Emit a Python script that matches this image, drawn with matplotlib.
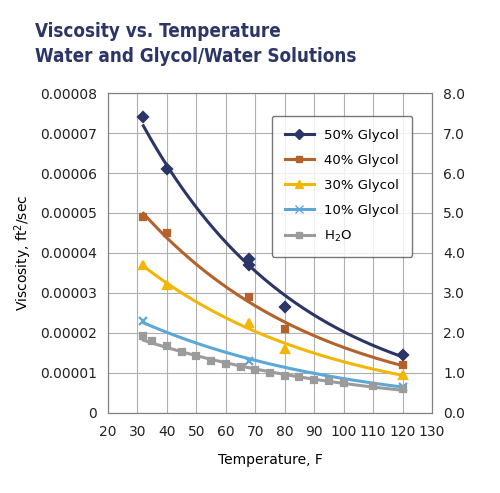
import numpy as np
import matplotlib
matplotlib.use("Agg")
import matplotlib.pyplot as plt

# data
g50_t = [32, 40, 68, 68, 80, 120]
g50_v = [0.000074, 0.000061, 0.0000385, 0.000037, 0.0000265, 0.0000145]
g40_t = [32, 40, 68, 80, 120]
g40_v = [0.000049, 0.000045, 0.000029, 0.000021, 0.000012]
g30_t = [32, 40, 68, 80, 120]
g30_v = [0.000037, 0.000032, 0.0000225, 0.000016, 0.0000095]
g10_t = [32, 68, 120]
g10_v = [0.000023, 0.000013, 0.0000065]
h2o_t = [32, 35, 40, 45, 50, 55, 60, 65, 70, 75, 80, 85, 90, 95, 100, 110, 120]
h2o_v = [0.0000192, 0.0000180, 0.0000166, 0.0000153, 0.0000141, 0.0000130,
         0.0000122, 0.0000114, 0.0000106, 0.0000100, 0.0000093, 0.0000088,
         0.0000082, 0.0000078, 0.0000074, 0.0000066, 0.0000059]

series = [
    ("50% Glycol", g50_t, g50_v, "#2b3566", "D", 5),
    ("40% Glycol", g40_t, g40_v, "#b3622b", "s", 5),
    ("30% Glycol", g30_t, g30_v, "#f2b705", "^", 6),
    ("10% Glycol", g10_t, g10_v, "#5ba7d8", "x", 6),
    ("H$_2$O",     h2o_t, h2o_v, "#9b9b9b", "s", 4),
]

fig = plt.figure(figsize=(5.0, 4.93), dpi=100)
ax = fig.add_axes([0.216, 0.163, 0.648, 0.648])

xs = np.linspace(32, 120, 200)
for label, t, v, col, mk, ms in series:
    k, b = np.polyfit(t, np.log(v), 1)
    ax.plot(xs, np.exp(b + k * xs), color=col, lw=2.2, zorder=2)
    ax.plot(t, v, ls="none", marker=mk, color=col, ms=ms, mew=1.6, zorder=3)
    ax.plot([], [], color=col, lw=2.2, marker=mk, ms=ms, label=label)

ax.set_xlim(20, 130)
ax.set_ylim(0, 0.00008)
ax.set_xticks(range(20, 131, 10))
ax.set_yticks(np.arange(0, 0.000081, 0.00001))
ax.set_yticklabels(["0"] + [f"{v:.5f}" for v in np.arange(0.00001, 0.000081, 0.00001)])
ax.grid(True, color="#b0b0b0", lw=0.8)
ax.set_axisbelow(True)
for s in ax.spines.values():
    s.set_color("#808080")
ax.tick_params(labelsize=10, length=0, colors="#222222")
ax.tick_params(axis="x", pad=9)
ax.tick_params(axis="y", pad=8)
ax.set_xlabel("Temperature, F", fontsize=10, labelpad=10)
ax.set_ylabel("Viscosity, ft$^2$/sec", fontsize=10)

ax2 = ax.twinx()
ax2.set_ylim(0, 8)
ax2.set_yticks(range(0, 9))
ax2.set_yticklabels([f"{v:.1f}" for v in range(0, 9)])
ax2.tick_params(labelsize=10, length=0, colors="#222222", pad=8)
for s in ax2.spines.values():
    s.set_color("#808080")

leg = ax.legend(loc="upper right", bbox_to_anchor=(0.96, 0.95), fontsize=9.5,
                frameon=True, fancybox=True, edgecolor="#555555", handlelength=2.2,
                borderpad=1.0, labelspacing=0.9)
leg.get_frame().set_linewidth(1.0)

fig.text(0.07, 0.955, "Viscosity vs. Temperature", fontsize=13.5, fontweight="bold",
         color="#2b3566", va="top", stretch="condensed")
fig.text(0.07, 0.905, "Water and Glycol/Water Solutions", fontsize=13.5, fontweight="bold",
         color="#2b3566", va="top", stretch="condensed")

fig.savefig("out.png", dpi=100, facecolor="white")
